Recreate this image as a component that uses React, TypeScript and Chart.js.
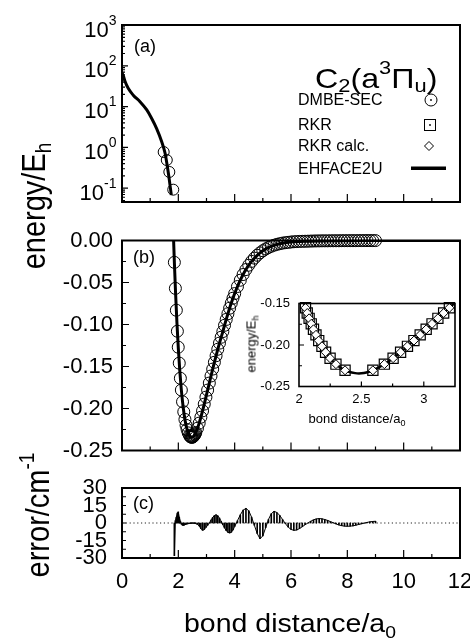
import React, { useEffect, useRef } from 'react';
import { Chart, registerables } from 'chart.js';

Chart.register(...registerables);

const FONT = '"Liberation Sans", Arial, Helvetica, sans-serif';
Chart.defaults.font.family = FONT;
Chart.defaults.color = '#000';

// ---------------- data ----------------
// panel (a): repulsive wall, log scale
const ehfRepR = [0.0, 0.05, 0.11, 0.22, 0.4, 0.64, 0.88, 1.05, 1.23, 1.41, 1.53, 1.61, 1.68, 1.75];
const ehfRepE = [68, 56, 41, 28, 19, 13.2, 8.3, 5.2, 2.9, 1.38, 0.72, 0.34, 0.16, 0.068];
const dmbeRepR = [1.48, 1.59, 1.68, 1.82];
const dmbeRepE = [0.77, 0.49, 0.25, 0.092];

// panel (b): EHFACE2U potential curve
const ehfR = [1.8, 1.83, 1.86, 1.9, 1.95, 2.0, 2.05, 2.1, 2.15, 2.2, 2.25, 2.3, 2.35, 2.4, 2.45, 2.48, 2.52, 2.56, 2.62, 2.68, 2.74, 2.8, 2.86, 2.92, 2.98, 3.04, 3.1, 3.16, 3.22, 3.28, 3.34, 3.4, 3.46, 3.52, 3.58, 3.64, 3.7, 3.76, 3.82, 3.88, 3.94, 4.0, 4.1, 4.2, 4.3, 4.4, 4.5, 4.6, 4.7, 4.8, 4.9, 5.0, 5.2, 5.4, 5.6, 5.8, 6.0, 6.5, 7.0, 8.0, 9.0, 10.0, 12.0];
const ehfE = [0.034, 0.0022, -0.0267, -0.0609, -0.0978, -0.1287, -0.1542, -0.1753, -0.1922, -0.2056, -0.216, -0.2236, -0.229, -0.2323, -0.2339, -0.2342, -0.2337, -0.2322, -0.2286, -0.2235, -0.2174, -0.2104, -0.2028, -0.1948, -0.1865, -0.1781, -0.1697, -0.1613, -0.1531, -0.145, -0.1372, -0.1295, -0.1222, -0.1152, -0.1084, -0.101, -0.094, -0.0872, -0.0806, -0.0745, -0.0687, -0.0632, -0.0548, -0.0473, -0.0405, -0.0346, -0.0294, -0.0249, -0.021, -0.0176, -0.0147, -0.0122, -0.0083, -0.0056, -0.0038, -0.0026, -0.0018, -0.0009, -0.0005, -0.0002, -0.0001, 0, 0];

// DMBE-SEC points (panel b) and their errors (panel c)
const dmbeR = [
  1.859, 1.895, 1.929, 1.966, 1.997, 2.033, 2.072, 2.107, 2.149, 2.193, 2.234, 2.274, 2.311, 2.35, 2.394, 2.42, 2.441, 2.46, 2.48,
  2.5, 2.52, 2.54, 2.56, 2.58, 2.6, 2.62,
  2.68, 2.74, 2.8, 2.86, 2.92, 2.98, 3.04, 3.1, 3.16, 3.22, 3.28, 3.34, 3.4, 3.46, 3.52, 3.58, 3.64, 3.7, 3.76, 3.82, 3.88, 3.94, 4.0,
  4.1, 4.2, 4.3, 4.4, 4.5, 4.6, 4.7, 4.8, 4.9, 5.0,
  5.1, 5.2, 5.3, 5.4, 5.5, 5.6, 5.7, 5.8, 5.9, 6.0,
  6.1, 6.2, 6.3, 6.4, 6.5, 6.6, 6.7, 6.8, 6.9, 7.0,
  7.1, 7.2, 7.3, 7.4, 7.5, 7.6, 7.7, 7.8, 7.9, 8.0,
  8.1, 8.2, 8.3, 8.4, 8.5, 8.6, 8.7, 8.8, 8.9, 9.0,
];
const dmbeE = [
  -0.026, -0.057, -0.083, -0.108, -0.127, -0.146, -0.164, -0.178, -0.192, -0.204, -0.213, -0.22, -0.225, -0.229, -0.232, -0.2332, -0.2338, -0.2341, -0.2342,
  -0.2341, -0.2337, -0.233, -0.2322, -0.2311, -0.23, -0.2286,
  -0.2235, -0.2174, -0.2104, -0.2028, -0.1948, -0.1865, -0.1781, -0.1697, -0.1613, -0.1531, -0.145, -0.1372, -0.1295, -0.1222, -0.1152, -0.1084, -0.101, -0.094, -0.0872, -0.0806, -0.0745, -0.0687, -0.0632,
  -0.0548, -0.0473, -0.0405, -0.0346, -0.0294, -0.0249, -0.021, -0.0176, -0.0147, -0.0122,
  -0.0101, -0.0083, -0.0068, -0.0056, -0.0046, -0.0038, -0.0031, -0.0026, -0.0022, -0.0018,
  -0.0015, -0.0013, -0.0011, -0.001, -0.0009, -0.0008, -0.0007, -0.0006, -0.0005, -0.0005,
  -0.0004, -0.0004, -0.0004, -0.0003, -0.0003, -0.0003, -0.0003, -0.0002, -0.0002, -0.0002,
  -0.0002, -0.0002, -0.0002, -0.0001, -0.0001, -0.0001, -0.0001, -0.0001, -0.0001, -0.0001,
];
const errorCm = [
  -28, 2, 5, 8.5, 9.5, 5, 1.5, -1, -2, -2, -1.5, -1, -0.8, -0.6, -0.4, -0.3, -0.2, -0.2, -0.1,
  0, -0.1, -0.1, -0.2, -0.3, -0.4, -0.6,
  -1.2, -2.5, -4.8, -6.3, -5.6, -3.8, -2.0, 0, 2.5, 4.8, 6.4, 7, 6.2, 4.2, 1.5, -1.5, -4.2, -6.5, -8, -8.5, -8, -6, -3,
  2, 7, 11, 12.5, 10.5, 5, -2, -9, -13.5, -11,
  -4, 3, 8, 10, 9, 6.5, 3, -0.5, -3.5, -5.5,
  -6.3, -6, -4.8, -3.2, -1.5, 0, 1.5, 2.7, 3.5, 3.8,
  3.6, 3, 2.2, 1.2, 0.2, -0.8, -1.7, -2.3, -2.7, -2.8,
  -2.7, -2.4, -1.9, -1.3, -0.7, -0.1, 0.5, 1, 1.3, 1.5,
];
const zeroLineR = [0, 12];
const zeroLineErr = [0, 0];

// inset: RKR turning points and RKR calc.
const rkrR = [2.052, 2.066, 2.081, 2.098, 2.116, 2.136, 2.158, 2.184, 2.213, 2.249, 2.296, 2.369, 2.592, 2.684, 2.754, 2.814, 2.869, 2.921, 2.971, 3.019, 3.066, 3.113, 3.159, 3.205];
const rkrE = [-0.1552, -0.1615, -0.1679, -0.1745, -0.1811, -0.1878, -0.1947, -0.2016, -0.2087, -0.2159, -0.2231, -0.2305, -0.2305, -0.2231, -0.2159, -0.2087, -0.2016, -0.1947, -0.1878, -0.1811, -0.1745, -0.1679, -0.1615, -0.1552];
const rkrCalcR = [2.052, 2.066, 2.081, 2.098, 2.116, 2.136, 2.158, 2.184, 2.213, 2.249, 2.296, 2.369, 2.592, 2.684, 2.754, 2.814, 2.869, 2.921, 2.971, 3.019, 3.066, 3.113, 3.159, 3.205];
const rkrCalcE = [-0.1552, -0.1615, -0.1679, -0.1745, -0.1811, -0.1878, -0.1947, -0.2016, -0.2087, -0.2159, -0.2231, -0.2305, -0.2305, -0.2231, -0.2159, -0.2087, -0.2016, -0.1947, -0.1878, -0.1811, -0.1745, -0.1679, -0.1615, -0.1552];

// tick values
const xMajorTicks = [0, 2, 4, 6, 8, 10, 12];
const xMinorTicks = [1, 3, 5, 7, 9, 11];
const logDecadeTicks = [0.1, 1, 10, 100, 1000];
const logDecadeExponents = ['-1', '0', '1', '2', '3'];
const logMinorTicks = [0.05, 0.06, 0.07, 0.08, 0.09, 0.2, 0.3, 0.4, 0.5, 0.6, 0.7, 0.8, 0.9, 2, 3, 4, 5, 6, 7, 8, 9, 20, 30, 40, 50, 60, 70, 80, 90, 200, 300, 400, 500, 600, 700, 800, 900];
const energyMajorTicks = [-0.05, -0.1, -0.15, -0.2];
const energyMinorTicks = [-0.025, -0.075, -0.125, -0.175, -0.225];
const errorTicks = [22.5, 15, 7.5, 0, -7.5, -15, -22.5];
const insetXMajorTicks = [2.5, 3];
const insetXMinorTicks = [2.25, 2.75];
const insetYMajorTicks = [-0.2];
const insetYMinorTicks = [-0.175, -0.225];

// ---------------- layout ----------------
const W = 470;
const H = 638;
type Area = { l: number; t: number; r: number; b: number };
const AREA_A: Area = { l: 122, t: 25, r: 460, b: 202 };
const AREA_B: Area = { l: 122, t: 240.5, r: 460, b: 450.5 };
const AREA_C: Area = { l: 122, t: 488, r: 460, b: 558 };
const AREA_I: Area = { l: 299, t: 303.5, r: 455, b: 386.5 };

const pad = (a: Area, yw: number, xh: number) => ({ left: a.l - yw, top: a.t, right: W - a.r, bottom: H - a.b - xh });
const fixY = (w: number) => (s: any) => { s.width = w; s.paddingTop = 0; s.paddingBottom = 0; };
const fixX = (h: number) => (s: any) => { s.height = h; s.paddingLeft = 0; s.paddingRight = 0; };
const pts = (xs: number[], ys: number[]) => xs.map((x, i) => ({ x, y: ys[i] }));
const fmt2 = (v: any) => (Math.abs(Number(v)) < 1e-9 ? '0.00' : Number(v).toFixed(2));
const fmtShort = (v: any) => String(Number(Number(v).toFixed(3)));

type TickSet = { values: number[]; len: number };
function framePlugin(id: string, lw: number, xt: TickSet[], yt: TickSet[], fill?: string) {
  return {
    id,
    beforeDraw(chart: any) {
      if (!fill) return;
      const a = chart.chartArea;
      const c = chart.ctx;
      c.save();
      c.fillStyle = fill;
      c.fillRect(a.left, a.top, a.right - a.left, a.bottom - a.top);
      c.restore();
    },
    afterDraw(chart: any) {
      const a = chart.chartArea;
      const c = chart.ctx;
      c.save();
      c.strokeStyle = '#000';
      c.lineWidth = 1.2;
      c.beginPath();
      xt.forEach((t) => t.values.forEach((v) => {
        const p = chart.scales.x.getPixelForValue(v);
        c.moveTo(p, a.bottom);
        c.lineTo(p, a.bottom - t.len);
      }));
      yt.forEach((t) => t.values.forEach((v) => {
        const p = chart.scales.y.getPixelForValue(v);
        c.moveTo(a.left, p);
        c.lineTo(a.left + t.len, p);
      }));
      c.stroke();
      c.lineWidth = lw;
      c.strokeRect(a.left, a.top, a.right - a.left, a.bottom - a.top);
      c.restore();
    },
  };
}

const logLabelPlugin = {
  id: 'logLabels',
  afterDraw(chart: any) {
    const c = chart.ctx;
    const y = chart.scales.y;
    const right = 116.5;
    c.save();
    c.fillStyle = '#000';
    c.textAlign = 'right';
    c.textBaseline = 'alphabetic';
    logDecadeTicks.forEach((v, i) => {
      const py = y.getPixelForValue(v);
      c.font = `14px ${FONT}`;
      const e = logDecadeExponents[i];
      const ew = c.measureText(e).width;
      c.fillText(e, right, py - 0.5);
      c.font = `22px ${FONT}`;
      c.fillText('10', right - ew, py + 11.5);
    });
    c.restore();
  },
};

const legendPlugin = {
  id: 'legendSymbols',
  afterDraw(chart: any) {
    const c = chart.ctx;
    c.save();
    c.strokeStyle = '#000';
    c.fillStyle = '#000';
    c.lineWidth = 1;
    // circle with dot
    c.beginPath();
    c.arc(431, 100, 6, 0, Math.PI * 2);
    c.stroke();
    c.beginPath();
    c.arc(431, 100, 0.9, 0, Math.PI * 2);
    c.fill();
    // square with dot
    c.strokeRect(424.5, 119.5, 11, 11);
    c.beginPath();
    c.arc(430, 125, 0.9, 0, Math.PI * 2);
    c.fill();
    // diamond
    c.beginPath();
    c.moveTo(429, 141.5);
    c.lineTo(433.5, 146);
    c.lineTo(429, 150.5);
    c.lineTo(424.5, 146);
    c.closePath();
    c.stroke();
    // line
    c.lineWidth = 3.5;
    c.beginPath();
    c.moveTo(411, 168.3);
    c.lineTo(446, 168.3);
    c.stroke();
    c.restore();
  },
};

const baseOptions = {
  animation: false as const,
  responsive: false,
  events: [] as any[],
  plugins: { legend: { display: false }, tooltip: { enabled: false } },
};

function configA(): any {
  return {
    type: 'line',
    data: {
      datasets: [
        { label: 'EHFACE2U', data: pts(ehfRepR, ehfRepE), borderColor: '#000', borderWidth: 3, pointRadius: 0, cubicInterpolationMode: 'monotone', clip: 0 },
        { label: 'DMBE-SEC', data: pts(dmbeRepR, dmbeRepE), showLine: false, pointStyle: 'circle', pointRadius: 5.5, pointBorderWidth: 1, pointBorderColor: '#000', pointBackgroundColor: 'rgba(0,0,0,0)', clip: false },
      ],
    },
    options: {
      ...baseOptions,
      layout: { padding: pad(AREA_A, 0, 0), autoPadding: false },
      scales: {
        x: { type: 'linear', min: 0, max: 12, display: false },
        y: { type: 'logarithmic', min: 0.0459, max: 1000, display: false },
      },
    },
    plugins: [
      framePlugin('frameA', 2, [{ values: xMajorTicks, len: 8 }, { values: xMinorTicks, len: 4 }], [{ values: logDecadeTicks, len: 6 }, { values: logMinorTicks, len: 3 }]),
      logLabelPlugin,
      legendPlugin,
    ],
  };
}

function configB(): any {
  return {
    type: 'line',
    data: {
      datasets: [
        { label: 'EHFACE2U', data: pts(ehfR, ehfE), borderColor: '#000', borderWidth: 3, pointRadius: 0, cubicInterpolationMode: 'monotone', clip: 0 },
        { label: 'DMBE-SEC', data: pts(dmbeR, dmbeE), showLine: false, pointStyle: 'circle', pointRadius: 6, pointBorderWidth: 1, pointBorderColor: '#000', pointBackgroundColor: 'rgba(0,0,0,0)', clip: false },
      ],
    },
    options: {
      ...baseOptions,
      layout: { padding: pad(AREA_B, 70, 0), autoPadding: false },
      scales: {
        x: { type: 'linear', min: 0, max: 12, display: false },
        y: {
          type: 'linear', min: -0.25, max: 0,
          grid: { display: false, drawTicks: false }, border: { display: false },
          ticks: { stepSize: 0.05, font: { size: 22 }, padding: 9, autoSkip: false, callback: fmt2 },
          afterFit: fixY(70),
        },
      },
    },
    plugins: [
      framePlugin('frameB', 2, [{ values: xMajorTicks, len: 8 }, { values: xMinorTicks, len: 4 }], [{ values: energyMajorTicks, len: 7 }, { values: energyMinorTicks, len: 4 }]),
    ],
  };
}

function configC(): any {
  return {
    type: 'line',
    data: {
      datasets: [
        { type: 'line', label: 'error outline', data: pts(dmbeR, errorCm), borderColor: '#000', borderWidth: 1, pointRadius: 0, clip: 0 },
        { type: 'bar', label: 'error', data: pts(dmbeR, errorCm), backgroundColor: '#000', borderWidth: 0, barThickness: 1 },
        { type: 'line', label: 'zero', data: pts(zeroLineR, zeroLineErr), borderColor: '#222', borderWidth: 1, borderDash: [1.2, 2.6], pointRadius: 0 },
      ],
    },
    options: {
      ...baseOptions,
      layout: { padding: pad(AREA_C, 70, 40), autoPadding: false },
      scales: {
        x: {
          type: 'linear', min: 0, max: 12, offset: false,
          grid: { display: false, drawTicks: false }, border: { display: false },
          ticks: { stepSize: 2, font: { size: 22 }, padding: 10.5, autoSkip: false, maxRotation: 0 },
          afterFit: fixX(40),
        },
        y: {
          type: 'linear', min: -30, max: 30,
          grid: { display: false, drawTicks: false }, border: { display: false },
          ticks: { stepSize: 15, font: { size: 22 }, padding: 15, autoSkip: false },
          afterFit: fixY(70),
        },
      },
    },
    plugins: [
      framePlugin('frameC', 2, [{ values: xMajorTicks, len: 8 }, { values: xMinorTicks, len: 4 }], [{ values: errorTicks, len: 4 }]),
    ],
  };
}

function configI(): any {
  return {
    type: 'line',
    data: {
      datasets: [
        { label: 'RKR calc.', data: pts(rkrCalcR, rkrCalcE), showLine: false, pointStyle: 'rectRot', pointRadius: 4.5, pointBorderWidth: 1, pointBorderColor: '#000', pointBackgroundColor: '#fff', clip: false },
        { label: 'RKR', data: pts(rkrR, rkrE), showLine: false, pointStyle: 'rect', pointRadius: 7.2, pointBorderWidth: 1.2, pointBorderColor: '#000', pointBackgroundColor: 'rgba(0,0,0,0)', clip: false },
        { label: 'EHFACE2U', data: pts(ehfR, ehfE), borderColor: '#000', borderWidth: 2.5, pointRadius: 0, cubicInterpolationMode: 'monotone', clip: 0 },
      ],
    },
    options: {
      ...baseOptions,
      layout: { padding: pad(AREA_I, 45, 20), autoPadding: false },
      scales: {
        x: {
          type: 'linear', min: 2, max: 3.25,
          grid: { display: false, drawTicks: false }, border: { display: false },
          ticks: { stepSize: 0.5, includeBounds: false, font: { size: 13 }, padding: 5.5, autoSkip: false, maxRotation: 0, callback: fmtShort },
          afterFit: fixX(20),
        },
        y: {
          type: 'linear', min: -0.25, max: -0.15,
          grid: { display: false, drawTicks: false }, border: { display: false },
          ticks: { stepSize: 0.05, font: { size: 13 }, padding: 9, autoSkip: false, callback: fmt2 },
          afterFit: fixY(45),
        },
      },
    },
    plugins: [
      framePlugin('frameI', 1.6, [{ values: insetXMajorTicks, len: 5 }, { values: insetXMinorTicks, len: 3 }], [{ values: insetYMajorTicks, len: 5 }, { values: insetYMinorTicks, len: 3 }], '#fff'),
    ],
  };
}

const abs = (extra: React.CSSProperties): React.CSSProperties => ({
  position: 'absolute', whiteSpace: 'nowrap', lineHeight: 1, fontFamily: FONT, color: '#000', ...extra,
});
const shift = (size: number, dy: number): React.CSSProperties => ({ fontSize: size, position: 'relative', top: dy });

export default function App() {
  const refA = useRef<HTMLCanvasElement>(null);
  const refB = useRef<HTMLCanvasElement>(null);
  const refC = useRef<HTMLCanvasElement>(null);
  const refI = useRef<HTMLCanvasElement>(null);

  useEffect(() => {
    const charts = [
      new Chart(refA.current as HTMLCanvasElement, configA()),
      new Chart(refB.current as HTMLCanvasElement, configB()),
      new Chart(refC.current as HTMLCanvasElement, configC()),
      new Chart(refI.current as HTMLCanvasElement, configI()),
    ];
    return () => charts.forEach((c) => c.destroy());
  }, []);

  const cv: React.CSSProperties = { position: 'absolute', left: 0, top: 0 };

  return (
    <div style={{ position: 'absolute', left: 0, top: 0, width: W, height: H, background: '#fff', overflow: 'hidden' }}>
      <canvas ref={refA} width={W} height={H} style={cv} />
      <canvas ref={refB} width={W} height={H} style={cv} />
      <canvas ref={refC} width={W} height={H} style={cv} />
      <canvas ref={refI} width={W} height={H} style={cv} />

      {/* panel labels */}
      <div style={abs({ left: 134, top: 36.5, fontSize: 18 })}>(a)</div>
      <div style={abs({ left: 133, top: 248, fontSize: 18 })}>(b)</div>
      <div style={abs({ left: 133, top: 493.5, fontSize: 18 })}>(c)</div>

      {/* molecule title */}
      <div style={abs({ left: 315, top: 64.5, fontSize: 28, transform: 'scaleX(1.15)', transformOrigin: 'left center' })}>
        C<span style={shift(19, 4)}>2</span>(a<span style={shift(19, -14)}>3</span>Π<span style={shift(19, 4)}>u</span>)
      </div>

      {/* legend texts */}
      <div style={abs({ left: 298, top: 92.2, fontSize: 16 })}>DMBE-SEC</div>
      <div style={abs({ left: 298, top: 117.2, fontSize: 16 })}>RKR</div>
      <div style={abs({ left: 298, top: 138.2, fontSize: 16 })}>RKR calc.</div>
      <div style={abs({ left: 298, top: 160.5, fontSize: 16 })}>EHFACE2U</div>

      {/* axis titles */}
      <div style={abs({ left: 34, top: 206, fontSize: 29, transform: 'translate(-50%, -50%) rotate(-90deg) scaleY(1.12)' })}>
        energy/E<span style={shift(19, 6)}>h</span>
      </div>
      <div style={abs({ left: 38, top: 515, fontSize: 29, transform: 'translate(-50%, -50%) rotate(-90deg) scaleY(1.12)' })}>
        error/cm<span style={shift(19, -13)}>-1</span>
      </div>
      <div style={abs({ left: 290, top: 610.5, fontSize: 25, transform: 'translateX(-50%) scaleX(1.14)' })}>
        bond distance/a<span style={shift(17, 6)}>0</span>
      </div>

      {/* inset titles */}
      <div style={abs({ left: 251, top: 344, fontSize: 13, transform: 'translate(-50%, -50%) rotate(-90deg)' })}>
        energy/E<span style={shift(9, 3)}>h</span>
      </div>
      <div style={abs({ left: 357, top: 412, fontSize: 13, transform: 'translateX(-50%)' })}>
        bond distance/a<span style={shift(9, 3)}>0</span>
      </div>
    </div>
  );
}
